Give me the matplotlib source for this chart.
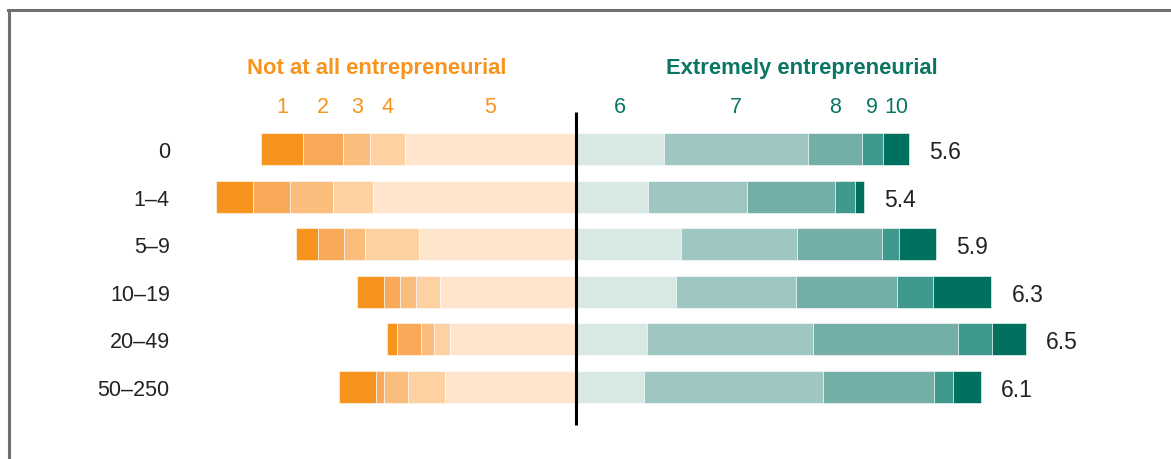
import numpy as np
import matplotlib.pyplot as plt
from matplotlib.lines import Line2D

plt.rcParams['font.family'] = ['Liberation Sans', 'DejaVu Sans']

# firm size groups (employees) and share of answers per score 1..10, in percent
groups = ['0', '1–4', '5–9', '10–19', '20–49', '50–250']
scores = ['1', '2', '3', '4', '5', '6', '7', '8', '9', '10']
shares = np.array([
    [6.6, 6.2, 4.1, 5.4, 26.4, 13.6, 22.2, 8.3, 3.2, 4.1],
    [5.8, 5.7, 6.6, 6.2, 31.3, 11.1, 15.3, 13.6, 3.0, 1.5],
    [3.3, 4.1, 3.3, 8.2, 24.3, 16.2, 17.9, 13.1, 2.7, 5.7],
    [4.1, 2.5, 2.5, 3.7, 21.0, 15.4, 18.6, 15.5, 5.6, 9.0],
    [1.6, 3.7, 2.0, 2.5, 19.4, 11.0, 25.6, 22.3, 5.3, 5.2],
    [5.7, 1.3, 3.7, 5.7, 20.2, 10.5, 27.6, 17.1, 2.9, 4.4],
])
means = [5.6, 5.4, 5.9, 6.3, 6.5, 6.1]

colors = ['#F7941D', '#F9AA59', '#FBBD7B', '#FDD1A2', '#FEE5CB',
          '#D8E8E4', '#9FC6C0', '#74AFA7', '#3F998C', '#00715F']
orange = '#F7941D'
teal = '#0A7563'
txt = '#222222'

fig = plt.figure(figsize=(11.71, 4.6), dpi=100)
ax = fig.add_axes([0, 0, 1, 1])
ax.set_xlim(-88.9, 91.8)
ax.set_ylim(6.513, -3.151)
ax.axis('off')

y = np.arange(len(groups))
h = 0.67
n_left = 5

# left side: scores 1-5 stacked leftwards from the centre line
left_tot = shares[:, :n_left].sum(axis=1)
start = -left_tot
for j in range(n_left):
    ax.barh(y, shares[:, j], left=start, height=h, color=colors[j],
            edgecolor='white', linewidth=0.4)
    start = start + shares[:, j]

# right side: scores 6-10 stacked rightwards
start = np.zeros(len(groups))
for j in range(n_left, len(scores)):
    ax.barh(y, shares[:, j], left=start, height=h, color=colors[j],
            edgecolor='white', linewidth=0.4)
    start = start + shares[:, j]
right_tot = start

ax.vlines(0, -0.78, len(groups) - 1 + 0.8, color='black', lw=2.2, zorder=5)

for i, g in enumerate(groups):
    ax.text(-62.7, i, g, ha='right', va='center_baseline', fontsize=15.5, color=txt)
    ax.text(right_tot[i] + 3.1, i, f'{means[i]:.1f}', ha='left', va='center_baseline',
            fontsize=16.5, color=txt)

# score numbers centred over the first row's segments
pos = np.concatenate([-left_tot[0] + np.cumsum(shares[0, :n_left]) - shares[0, :n_left] / 2,
                      np.cumsum(shares[0, n_left:]) - shares[0, n_left:] / 2])
for j, s in enumerate(scores):
    ax.text(pos[j], -0.945, s, ha='center', va='center_baseline', fontsize=15.5,
            color=orange if j < n_left else teal)

ax.text(-30.8, -1.765, 'Not at all entrepreneurial', ha='center', va='center_baseline',
        fontsize=15.8, fontweight='bold', color=orange)
ax.text(34.8, -1.765, 'Extremely entrepreneurial', ha='center', va='center_baseline',
        fontsize=15.8, fontweight='bold', color=teal)

# grey frame along the top and left edge
fig.add_artist(Line2D([8 / 1171, 1], [1 - 10.5 / 460, 1 - 10.5 / 460],
                      transform=fig.transFigure, color='#707070', lw=2.2))
fig.add_artist(Line2D([8.5 / 1171, 8.5 / 1171], [0, 1 - 10.5 / 460],
                      transform=fig.transFigure, color='#707070', lw=2.2))

fig.savefig('out.png', dpi=100)
